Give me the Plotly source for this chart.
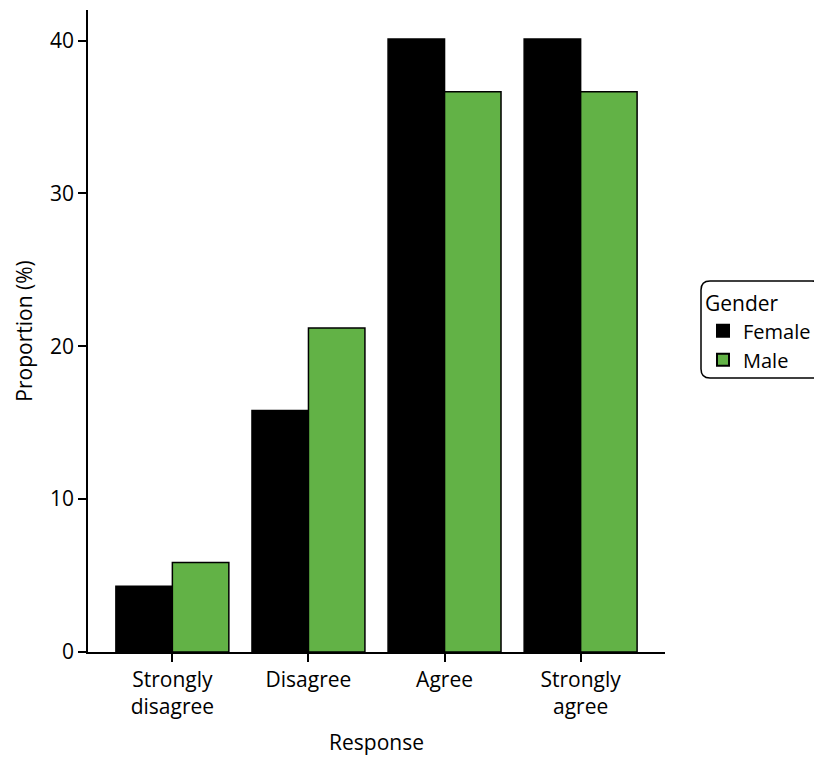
import plotly.graph_objects as go

categories = ["Strongly<br>disagree", "Disagree", "Agree", "Strongly<br>agree"]
female = [4.3, 15.8, 40.1, 40.1]
male = [5.85, 21.2, 36.65, 36.65]
y_ticks = [0, 10, 20, 30, 40]

FONT = "Open Sans, Noto Sans, sans-serif"
FS = 21
OFF = 8  # default page body margin
W, H = 822 - OFF, 758 - OFF
L, T = 88 - OFF, 10 - OFF
R = W - (665 - OFF)
B = H - (652 - OFF)
pw, ph = W - L - R, H - T - B

fig = go.Figure()
fig.add_trace(go.Bar(name="Female", x=categories, y=female,
                     marker=dict(color="#000000", line=dict(color="#000000", width=1.5))))
fig.add_trace(go.Bar(name="Male", x=categories, y=male,
                     marker=dict(color="#62B246", line=dict(color="#000000", width=1.5))))

def px_x(p):
    return (p - OFF - L) / pw

def px_y(p):
    return (H - B - (p - OFF)) / ph

# rounded legend frame
x0, x1, y0, y1, r = px_x(701), px_x(821), px_y(281), px_y(378), 9
rx, ry = r / pw, r / ph
path = (f"M {x0+rx},{y0} L {x1-rx},{y0} Q {x1},{y0} {x1},{y0-ry} "
        f"L {x1},{y1+ry} Q {x1},{y1} {x1-rx},{y1} L {x0+rx},{y1} "
        f"Q {x0},{y1} {x0},{y1+ry} L {x0},{y0-ry} Q {x0},{y0} {x0+rx},{y0} Z")
fig.add_shape(type="path", path=path, xref="paper", yref="paper",
              line=dict(color="#000000", width=1.5), fillcolor="rgba(0,0,0,0)")

fig.update_layout(
    width=W, height=H,
    margin=dict(l=L, r=R, t=T, b=B, autoexpand=False),
    plot_bgcolor="white", paper_bgcolor="white",
    barmode="group", bargap=0.17, bargroupgap=0,
    font=dict(family=FONT, size=FS, color="#000000"),
    legend=dict(title=dict(text="Gender", font=dict(size=FS)),
                x=px_x(703), y=px_y(284), xanchor="left", yanchor="top",
                font=dict(size=20), bgcolor="rgba(0,0,0,0)",
                tracegroupgap=0, itemwidth=30, itemsizing="constant"),
    xaxis=dict(range=[-0.62, 3.62], showline=True, linecolor="#000000", linewidth=1.5,
               ticks="outside", ticklen=8, tickwidth=1.5, tickcolor="#000000",
               title=dict(text="Response", font=dict(size=FS), standoff=16),
               tickfont=dict(size=FS)),
    yaxis=dict(range=[0, 42], showline=True, linecolor="#000000", linewidth=1.5,
               ticks="outside", ticklen=8, tickwidth=1.5, tickcolor="#000000",
               tickvals=y_ticks, showgrid=False, zeroline=False,
               title=dict(text="Proportion (%)", font=dict(size=FS), standoff=12),
               tickfont=dict(size=FS)),
)

fig.write_html("out.html")
